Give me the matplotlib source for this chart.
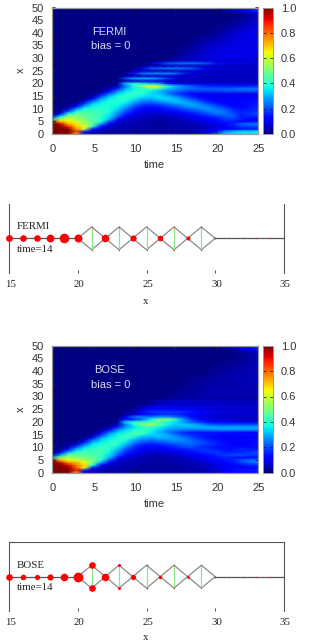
import matplotlib
matplotlib.use("Agg")
import matplotlib.pyplot as plt
import numpy as np
from matplotlib.ticker import FormatStrFormatter
from matplotlib.transforms import ScaledTranslation

W, H = 312, 641
plt.rcParams['font.family'] = ['Liberation Sans']

time_values = list(range(26))
site_rows = list(range(31)) + [32, 35, 40, 45, 47, 48, 49, 50]

# density in percent; each row is one x, each column one time
fermi_percent = [
 [100,100,100,72,6,3,2,2,2,2,2,2,2,2,2,2,2,3,5,10,22,32,34,34,35,37],
 [100,100,100,85,15,6,4,3,3,3,3,3,3,3,3,3,3,3,4,6,14,27,32,35,35,37],
 [100,100,100,76,60,14,8,5,4,4,3,3,3,3,3,3,3,4,5,6,8,10,12,14,15,15],
 [100,100,88,70,62,38,12,7,5,4,4,3,3,3,3,3,4,4,5,6,8,10,14,18,18,20],
 [100,96,74,66,56,48,28,10,6,5,4,4,3,3,3,4,4,5,6,8,10,12,16,22,24,25],
 [100,72,66,60,52,46,40,20,8,6,5,4,4,3,4,4,5,6,8,10,12,15,15,12,14,15],
 [30,54,60,55,50,44,40,32,14,8,6,5,4,4,4,5,6,8,10,12,14,18,18,16,12,12],
 [2,34,54,52,48,44,40,35,22,12,8,6,5,5,5,6,8,10,13,15,18,20,22,14,15,17],
 [1,10,38,46,46,44,42,36,26,16,10,8,7,7,8,9,11,14,17,20,24,24,20,16,18,20],
 [1,3,20,38,44,42,42,38,30,20,14,10,9,9,11,13,15,18,21,24,26,24,18,16,16,18],
 [0,1,7,26,38,40,40,39,34,24,17,12,11,12,15,17,20,23,25,27,24,21,16,14,15,18],
 [0,0,2,11,30,37,39,39,36,29,20,15,14,16,18,21,25,28,28,25,20,17,13,12,14,16],
 [0,0,1,3,18,33,37,39,38,34,26,20,19,21,24,27,29,29,25,20,16,13,12,12,14,15],
 [0,0,0,1,7,24,34,38,39,38,31,25,24,27,30,32,30,25,20,15,12,11,11,12,13,14],
 [0,0,0,0,2,11,28,36,39,40,36,30,30,33,34,31,25,20,15,12,11,10,11,12,12,13],
 [0,0,0,0,1,4,18,31,38,40,40,36,33,35,31,25,20,15,12,10,10,10,10,10,10,10],
 [0,0,0,0,0,1,8,22,33,39,41,41,35,32,26,19,15,12,10,10,10,10,10,9,9,10],
 [0,0,0,0,0,1,2,11,26,35,39,39,36,31,26,23,20,18,18,18,19,20,20,21,21,21],
 [0,0,0,0,0,0,1,4,15,30,37,41,47,43,33,27,24,23,22,22,22,22,23,24,24,24],
 [0,0,0,0,0,0,0,1,6,24,38,52,64,60,40,32,26,22,18,16,16,15,15,15,16,16],
 [0,0,0,0,0,0,0,0,3,32,40,36,32,29,16,12,10,9,8,8,8,8,8,8,8,8],
 [0,0,0,0,0,0,0,0,1,4,5,6,6,6,5,5,5,5,5,5,5,5,5,5,5,5],
 [0,0,0,0,0,0,0,0,1,20,28,30,30,26,18,10,8,8,7,7,7,7,7,7,7,7],
 [0,0,0,0,0,0,0,0,0,2,4,5,5,5,5,5,5,5,5,5,5,5,5,5,5,5],
 [0,0,0,0,0,0,0,0,0,3,14,24,26,26,26,24,16,10,8,7,7,7,7,7,7,7],
 [0,0,0,0,0,0,0,0,0,1,2,4,5,5,5,5,5,5,5,5,5,5,5,5,5,5],
 [0,0,0,0,0,0,0,0,0,0,2,10,20,23,24,25,24,22,16,10,8,8,8,8,8,8],
 [0,0,0,0,0,0,0,0,0,0,0,1,3,4,5,5,5,5,5,5,5,5,5,5,5,5],
 [0,0,0,0,0,0,0,0,0,0,0,1,6,14,20,22,24,24,22,20,14,12,10,10,9,9],
 [0,0,0,0,0,0,0,0,0,0,0,0,0,1,2,4,5,6,6,6,6,6,6,6,6,6],
 [0,0,0,0,0,0,0,0,0,0,0,0,0,0,1,3,5,6,7,8,9,9,9,9,9,9],
 [0,0,0,0,0,0,0,0,0,0,0,0,0,0,0,1,2,4,6,8,9,9,9,9,9,9],
 [0,0,0,0,0,0,0,0,0,0,0,0,0,0,0,0,1,2,4,6,7,8,9,9,9,9],
 [0,0,0,0,0,0,0,0,0,0,0,0,0,0,0,0,0,0,0,1,2,4,6,8,9,9],
 [0,0,0,0,0,0,0,0,0,0,0,0,0,0,0,0,0,0,0,0,0,0,1,3,5,7],
 [0,0,0,0,0,0,0,0,0,0,0,0,0,0,0,0,0,0,0,0,0,0,0,1,3,6],
 [0,0,0,0,0,0,0,0,0,0,0,0,0,0,0,0,0,0,0,0,0,1,2,4,7,9],
 [0,0,0,0,0,0,0,0,0,0,0,0,0,0,0,0,0,0,0,0,1,3,6,10,14,18],
 [0,0,0,0,0,0,0,0,0,0,0,0,0,0,0,0,0,0,0,0,0,1,3,5,8,10],
]

bose_percent = [
 [100,100,100,72,6,3,2,2,2,2,2,2,2,2,2,2,2,2,3,5,8,10,11,12,12,13],
 [100,100,100,88,15,6,4,3,3,3,3,3,3,3,3,3,3,3,4,5,8,12,14,15,15,16],
 [100,100,100,82,64,14,8,5,4,4,3,3,3,3,3,3,3,4,5,6,8,10,12,12,12,12],
 [100,100,92,78,68,38,12,7,5,4,4,3,3,3,3,3,4,4,5,6,8,10,12,14,15,16],
 [100,96,78,72,64,50,28,10,6,5,4,4,3,3,3,4,4,5,6,8,10,12,14,18,22,24],
 [100,74,64,60,56,48,40,20,8,6,5,4,4,3,4,4,5,6,8,10,12,14,16,20,24,25],
 [28,52,56,52,49,46,40,32,14,8,6,5,4,4,4,5,6,8,10,12,14,16,14,14,13,13],
 [2,28,48,48,46,45,42,34,22,12,8,6,5,5,5,6,8,10,12,14,16,18,20,20,18,18],
 [1,10,32,42,43,43,43,37,26,16,10,8,7,7,8,9,11,13,15,17,18,16,16,16,18,20],
 [1,3,16,33,40,41,43,39,30,20,14,10,9,9,11,13,14,16,17,17,16,14,14,16,16,16],
 [0,1,6,22,35,39,41,41,35,24,17,12,11,12,14,16,18,19,17,16,14,14,14,14,14,14],
 [0,0,2,9,26,36,39,41,39,30,20,15,14,15,17,19,22,22,19,17,15,14,13,12,13,14],
 [0,0,1,3,15,31,36,39,41,35,26,20,19,20,22,24,24,24,21,18,16,14,13,12,13,14],
 [0,0,0,1,6,22,33,37,41,39,30,25,23,25,27,27,26,22,19,16,14,12,12,12,13,14],
 [0,0,0,0,2,10,27,35,39,43,37,30,29,31,30,28,24,19,16,14,12,12,12,12,12,12],
 [0,0,0,0,1,3,16,31,37,41,43,39,33,33,30,24,19,17,15,14,14,13,13,14,14,14],
 [0,0,0,0,0,1,7,22,33,37,43,43,37,30,25,21,17,15,14,14,14,14,14,12,12,12],
 [0,0,0,0,0,1,2,11,26,33,39,41,39,34,28,26,25,25,25,26,27,27,27,27,27,27],
 [0,0,0,0,0,0,1,4,15,28,35,39,42,37,32,29,30,30,30,30,29,29,29,29,29,29],
 [0,0,0,0,0,0,0,1,6,24,38,50,54,47,38,33,33,31,27,23,21,20,20,20,20,20],
 [0,0,0,0,0,0,0,0,3,34,42,42,44,45,37,34,28,22,18,14,12,11,10,10,10,10],
 [0,0,0,0,0,0,0,0,1,14,16,24,36,50,54,44,28,18,12,10,8,8,8,7,7,7],
 [0,0,0,0,0,0,0,0,1,12,24,26,26,28,28,24,20,14,10,8,7,7,7,6,6,6],
 [0,0,0,0,0,0,0,0,0,2,6,12,14,16,17,16,14,12,10,8,7,6,6,6,6,6],
 [0,0,0,0,0,0,0,0,0,2,5,14,17,18,18,18,17,15,13,12,10,9,8,8,8,8],
 [0,0,0,0,0,0,0,0,0,1,2,6,10,11,11,11,10,9,8,7,7,6,6,6,6,6],
 [0,0,0,0,0,0,0,0,0,0,1,6,10,12,12,12,12,11,10,10,9,9,8,8,8,8],
 [0,0,0,0,0,0,0,0,0,0,0,1,2,4,5,5,5,5,5,5,5,5,5,5,5,5],
 [0,0,0,0,0,0,0,0,0,0,0,1,3,6,8,8,8,8,8,8,8,7,7,7,6,6],
 [0,0,0,0,0,0,0,0,0,0,0,0,0,1,2,3,3,3,3,3,3,3,3,3,3,3],
 [0,0,0,0,0,0,0,0,0,0,0,0,0,0,1,2,3,3,4,4,4,4,4,4,4,4],
 [0,0,0,0,0,0,0,0,0,0,0,0,0,0,0,1,2,3,3,4,4,4,4,4,4,4],
 [0,0,0,0,0,0,0,0,0,0,0,0,0,0,0,0,1,2,3,3,4,4,4,5,5,5],
 [0,0,0,0,0,0,0,0,0,0,0,0,0,0,0,0,0,0,0,1,2,3,4,4,5,5],
 [0,0,0,0,0,0,0,0,0,0,0,0,0,0,0,0,0,0,0,0,0,0,1,2,3,4],
 [0,0,0,0,0,0,0,0,0,0,0,0,0,0,0,0,0,0,0,0,0,0,0,1,3,5],
 [0,0,0,0,0,0,0,0,0,0,0,0,0,0,0,0,0,0,0,0,0,1,1,3,5,7],
 [0,0,0,0,0,0,0,0,0,0,0,0,0,0,0,0,0,0,0,0,1,2,5,9,13,16],
 [0,0,0,0,0,0,0,0,0,0,0,0,0,0,0,0,0,0,0,0,0,1,3,5,8,10],
]

# lattice sites and marker radii (pixels) at time 14
chain_sites = list(range(15, 36))
fermi_radius = [3.4, 3.3, 3.3, 3.9, 4.8, 4.0, 0.6, 3.8, 0.6, 3.1, 0.6, 2.8, 0.6, 2.0, 0.6, 0.8, 0.4, 0.4, 0.4, 0.4, 0.3]
bose_radius = [3.3, 2.8, 2.6, 3.1, 3.8, 4.9, 3.3, 3.8, 1.5, 2.6, 0.8, 1.7, 0.6, 1.4, 0.5, 0.8, 0.4, 0.4, 0.4, 0.4, 0.3]


def box(left, top, right, bottom):
    return fig.add_axes([left / W, 1 - bottom / H, (right - left) / W, (bottom - top) / H])


def heatmap(box_px, matrix, title, xlabel_y, ylabel_y):
    left, top, right, bottom = box_px
    ax = box(left, top, right, bottom)
    mesh = ax.pcolormesh(time_values, site_rows, np.array(matrix) / 100, cmap='jet', vmin=0, vmax=1,
                         shading='gouraud', rasterized=True)
    ax.set_xlim(0, 25)
    ax.set_ylim(0, 50)
    ax.set_xticks(range(0, 26, 5))
    ax.set_yticks(range(0, 51, 5))
    ax.tick_params(direction='in', length=2, width=0.6, color='#222222', labelsize=8,
                   labelcolor='#333333', top=True, right=True)
    ax.tick_params(axis='x', pad=7.5)
    ax.tick_params(axis='y', pad=5.5)
    off = ScaledTranslation(1.5 / 100, 0, fig.dpi_scale_trans)
    for lab in ax.get_xticklabels():
        lab.set_transform(lab.get_transform() + off)
    for s in ax.spines.values():
        s.set_color('#999999')
        s.set_linewidth(0.9)
    ax.text(7.0, 40.3, title, color='#d8d8f0', fontsize=8, ha='center', va='center')
    ax.text(7.2, 34.6, 'bias = 0', color='#d8d8f0', fontsize=8, ha='center', va='center')
    fig.text(154 / W, 1 - xlabel_y / H, 'time', fontsize=8, color='#333333', ha='center', va='center')
    fig.text(21 / W, 1 - ylabel_y / H, 'x', fontsize=8, color='#333333', ha='center', va='center', rotation=90)
    cax = box(262.5, top, 273, bottom)
    cb = fig.colorbar(mesh, cax=cax)
    cb.set_ticks(np.arange(0, 1.01, 0.2))
    cb.ax.tick_params(direction='in', length=2, width=0.6, labelsize=8, labelcolor='#333333', pad=5.5,
                      color='#222222', left=True, right=True)
    cb.ax.yaxis.set_major_formatter(FormatStrFormatter('%.1f'))
    cb.outline.set_edgecolor('#999999')
    cb.outline.set_linewidth(0.7)
    return ax


def lattice(box_px, radius, title, title_y, time_y, xlabel_y, show_top):
    left, top, right, bottom = box_px
    ax = box(left, top, right, bottom)
    ax.set_xlim(15, 35)
    ax.set_ylim(-3, 3)
    ax.patch.set_alpha(0)
    gray = '#8a8a8a'
    for site in chain_sites:
        if site < 20 or site >= 30:
            if site < 35:
                ax.plot([site, site + 1], [0, 0], color='#555555', lw=0.9, zorder=1)
        elif site % 2 == 1:
            ax.plot([site - 1, site, site + 1], [0, 1, 0], color=gray, lw=0.9, zorder=1)
            ax.plot([site - 1, site, site + 1], [0, -1, 0], color=gray, lw=0.9, zorder=1)
            ax.plot([site, site], [-1, 1], color='#86e886', lw=0.9, zorder=1)
    for site, r in zip(chain_sites, radius):
        ys = [1, -1] if (21 <= site < 30 and site % 2 == 1) else [0]
        ax.scatter([site] * len(ys), ys, s=(2 * r * 0.72) ** 2, color='#ff0000', lw=0, zorder=3, clip_on=False)
    ax.set_xticks(range(15, 36, 5))
    ax.set_yticks([])
    ax.tick_params(axis='x', direction='in', length=2.2, width=0.6, color='#333333', labelsize=7.8,
                   labelcolor='#222222', pad=5, labelfontfamily='Liberation Serif')
    off = ScaledTranslation(1.5 / 100, 0, fig.dpi_scale_trans)
    for lab in ax.get_xticklabels():
        lab.set_transform(lab.get_transform() + off)
    ax.spines['bottom'].set_visible(False)
    ax.spines['top'].set_visible(show_top)
    for name in ('left', 'right', 'top'):
        ax.spines[name].set_color('#555555')
        ax.spines[name].set_linewidth(0.8)
    fig.text(16.5 / W, 1 - title_y / H, title, family='Liberation Serif', fontsize=7.8, color='#222222', va='center')
    fig.text(16.5 / W, 1 - time_y / H, 'time=14', family='Liberation Serif', fontsize=7.8, color='#222222', va='center')
    fig.text(146 / W, 1 - xlabel_y / H, 'x', family='Liberation Serif', fontsize=7.8, color='#222222', ha='center', va='center')
    return ax


fig = plt.figure(figsize=(W / 100, H / 100), dpi=100)
heatmap((51.5, 7.5, 257.5, 134), fermi_percent, 'FERMI', 165, 70)
heatmap((51.5, 345.7, 257.5, 472.7), bose_percent, 'BOSE', 504, 409)
lattice((9.3, 204, 283.7, 272.7), fermi_radius, 'FERMI', 226.7, 250, 301.7, False)
lattice((9.3, 542.3, 283.7, 611), bose_radius, 'BOSE', 565, 587.7, 638, True)
fig.savefig('out.png', dpi=100)
